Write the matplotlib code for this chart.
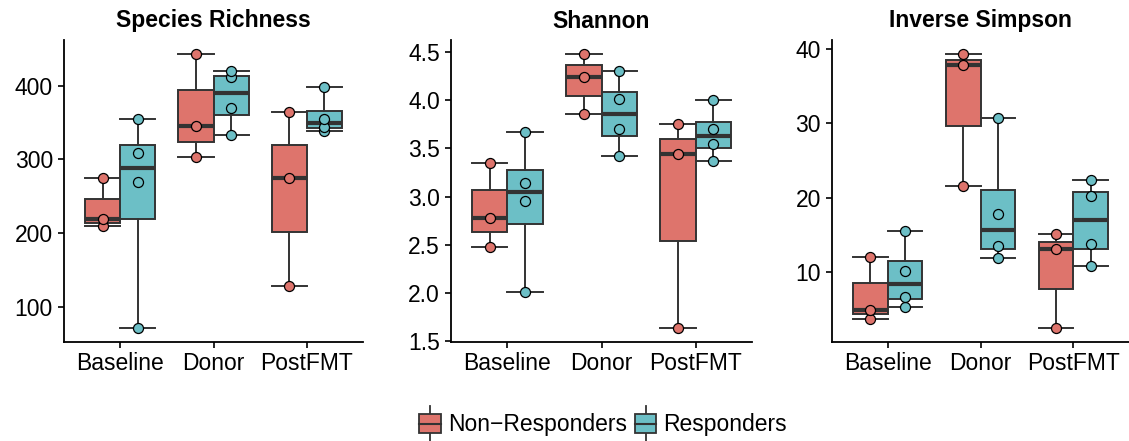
import matplotlib
matplotlib.use('Agg')
import matplotlib.pyplot as plt
from matplotlib.legend_handler import HandlerBase
from matplotlib.patches import Rectangle
from matplotlib.lines import Line2D

plt.rcParams['font.family'] = ['Liberation Sans', 'DejaVu Sans']

groups = ['Baseline', 'Donor', 'PostFMT']
status = ['Non\u2212Responders', 'Responders']
fills = ['#DE746C', '#6CBFC6']
titles = ['Species Richness', 'Shannon', 'Inverse Simpson']

# values per group: Baseline, Donor, PostFMT
richness_nr = [[210, 219, 275], [303, 345, 443], [129, 275, 364]]
richness_r = [[71.5, 269, 308, 355], [333, 370, 411, 419], [338, 343.5, 354, 398]]
shannon_nr = [[2.477, 2.782, 3.343], [3.852, 4.240, 4.479], [1.635, 3.436, 3.752]]
shannon_r = [[2.009, 2.955, 3.142, 3.665], [3.416, 3.700, 4.015, 4.296], [3.364, 3.544, 3.700, 3.998]]
invsimp_nr = [[3.76, 5.01, 12.11], [21.59, 37.80, 39.37], [2.50, 13.10, 15.16]]
invsimp_r = [[5.42, 6.72, 10.14, 15.52], [11.89, 13.59, 17.90, 30.79], [10.90, 13.82, 20.33, 22.35]]

panels = [(richness_nr, richness_r), (shannon_nr, shannon_r), (invsimp_nr, invsimp_r)]
yticks = [[100, 200, 300, 400], [1.5, 2.0, 2.5, 3.0, 3.5, 4.0, 4.5], [10, 20, 30, 40]]
yfmt = ['{:.0f}', '{:.1f}', '{:.0f}']

fig = plt.figure(figsize=(11.29, 4.41), dpi=100)
lefts = [64, 451, 832]
widths = [299, 301, 297]
edge = '#333333'
bw = 0.375

for k in range(3):
    ax = fig.add_axes([lefts[k] / 1129, 99 / 441, widths[k] / 1129, 302 / 441])
    allv = []
    for j, series in enumerate(panels[k]):
        for i, vals in enumerate(series):
            pos = i + 1 + (j - 0.5) * bw
            allv += vals
            ax.boxplot(vals, positions=[pos], widths=bw, whis=(0, 100), capwidths=bw,
                       patch_artist=True, showfliers=False, manage_ticks=False,
                       boxprops=dict(facecolor=fills[j], edgecolor=edge, linewidth=1.4),
                       whiskerprops=dict(color=edge, linewidth=1.4),
                       capprops=dict(color=edge, linewidth=1.4),
                       medianprops=dict(color=edge, linewidth=3))
            ax.scatter([pos] * len(vals), vals, s=52, c=fills[j], edgecolors='black',
                       linewidths=0.9, zorder=4)
    lo, hi = min(allv), max(allv)
    pad = 0.05 * (hi - lo)
    ax.set_ylim(lo - pad, hi + pad)
    ax.set_xlim(0.4, 3.6)
    ax.set_xticks([1, 2, 3])
    ax.set_xticklabels(groups)
    ax.set_yticks(yticks[k])
    ax.set_yticklabels([yfmt[k].format(v) for v in yticks[k]])
    ax.spines['top'].set_visible(False)
    ax.spines['right'].set_visible(False)
    for s in ['left', 'bottom']:
        ax.spines[s].set_linewidth(1.3)
    ax.tick_params(axis='both', length=4, width=1.2, labelsize=16.5, colors='black')
    ax.tick_params(axis='y', pad=4)
    ax.tick_params(axis='x', pad=3.5)
    ax.set_title(titles[k], fontsize=16.5, fontweight='bold', pad=9)


class BoxHandler(HandlerBase):
    def create_artists(self, legend, orig_handle, xdescent, ydescent, width, height, fontsize, trans):
        fc = orig_handle.get_facecolor()
        x0, y0 = -xdescent, -ydescent
        cx = x0 + width / 2
        arts = [
            Line2D([cx, cx], [y0 - 0.4 * height, y0 + 1.4 * height], color=edge, lw=1.3),
            Rectangle((x0, y0), width, height, facecolor=fc, edgecolor=edge, lw=1.3),
            Line2D([x0, x0 + width], [y0 + height / 2] * 2, color=edge, lw=1.5),
        ]
        for a in arts:
            a.set_transform(trans)
        return arts


handles = [Rectangle((0, 0), 1, 1, facecolor=c) for c in fills]
fig.legend(handles, status, handler_map={Rectangle: BoxHandler()}, loc='center',
           bbox_to_anchor=(603 / 1129, 1 - 425 / 441), ncol=2, frameon=False, fontsize=16.5,
           handlelength=0.95, handleheight=0.9, handletextpad=0.3, columnspacing=0.35)

fig.savefig('out.png', dpi=100)
